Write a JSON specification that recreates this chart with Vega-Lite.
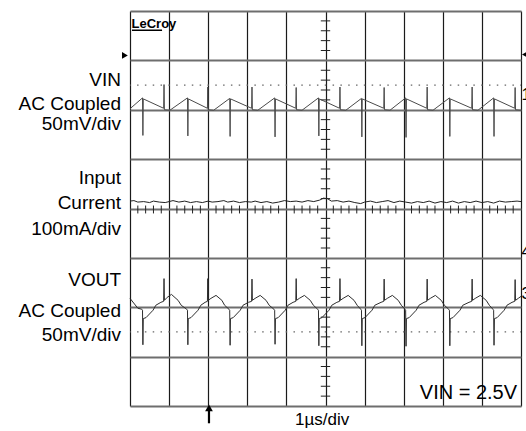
{
  "$schema": "https://vega.github.io/schema/vega-lite/v6.json",
  "width": 391,
  "height": 395,
  "autosize": {"type": "none"},
  "padding": {"left": 130, "top": 11, "right": 5, "bottom": 25},
  "background": "white",
  "config": {"view": {"stroke": null}, "font": "Liberation Sans"},
  "datasets": {
    "traces": [
      {"c":"vin","t":0,"v":2.02},
      {"c":"vin","t":0.32,"v":2.24},{"c":"vin","t":0.33,"v":1.48},{"c":"vin","t":0.34,"v":2.22},{"c":"vin","t":0.86,"v":2.03},{"c":"vin","t":0.87,"v":2.51},{"c":"vin","t":0.88,"v":2.0},{"c":"vin","t":1.02,"v":1.99},
      {"c":"vin","t":1.47,"v":2.24},{"c":"vin","t":1.48,"v":1.47},{"c":"vin","t":1.49,"v":2.22},{"c":"vin","t":1.98,"v":2.03},{"c":"vin","t":1.99,"v":2.46},{"c":"vin","t":2.0,"v":2.0},{"c":"vin","t":2.14,"v":1.99},
      {"c":"vin","t":2.55,"v":2.23},{"c":"vin","t":2.56,"v":1.46},{"c":"vin","t":2.57,"v":2.22},{"c":"vin","t":3.11,"v":2.03},{"c":"vin","t":3.12,"v":2.46},{"c":"vin","t":3.13,"v":2.0},{"c":"vin","t":3.27,"v":1.99},
      {"c":"vin","t":3.70,"v":2.24},{"c":"vin","t":3.71,"v":1.45},{"c":"vin","t":3.72,"v":2.22},{"c":"vin","t":4.24,"v":2.03},{"c":"vin","t":4.25,"v":2.45},{"c":"vin","t":4.26,"v":2.0},{"c":"vin","t":4.40,"v":1.99},
      {"c":"vin","t":4.82,"v":2.24},{"c":"vin","t":4.83,"v":1.47},{"c":"vin","t":4.84,"v":2.22},{"c":"vin","t":5.36,"v":2.03},{"c":"vin","t":5.37,"v":2.46},{"c":"vin","t":5.38,"v":2.0},{"c":"vin","t":5.52,"v":1.99},
      {"c":"vin","t":5.92,"v":2.23},{"c":"vin","t":5.93,"v":1.45},{"c":"vin","t":5.94,"v":2.22},{"c":"vin","t":6.49,"v":2.03},{"c":"vin","t":6.50,"v":2.45},{"c":"vin","t":6.51,"v":2.0},{"c":"vin","t":6.65,"v":1.99},
      {"c":"vin","t":7.05,"v":2.24},{"c":"vin","t":7.06,"v":1.44},{"c":"vin","t":7.07,"v":2.22},{"c":"vin","t":7.59,"v":2.03},{"c":"vin","t":7.60,"v":2.46},{"c":"vin","t":7.61,"v":2.0},{"c":"vin","t":7.75,"v":1.99},
      {"c":"vin","t":8.17,"v":2.24},{"c":"vin","t":8.18,"v":1.46},{"c":"vin","t":8.19,"v":2.22},{"c":"vin","t":8.74,"v":2.03},{"c":"vin","t":8.75,"v":2.46},{"c":"vin","t":8.76,"v":2.0},{"c":"vin","t":8.90,"v":1.99},
      {"c":"vin","t":9.30,"v":2.24},{"c":"vin","t":9.31,"v":1.46},{"c":"vin","t":9.32,"v":2.22},{"c":"vin","t":9.84,"v":2.03},{"c":"vin","t":9.85,"v":2.45},{"c":"vin","t":9.86,"v":2.0},{"c":"vin","t":10,"v":1.99},

      {"c":"iin","t":0,"v":0.15},{"c":"iin","t":0.1,"v":0.16},{"c":"iin","t":0.2,"v":0.13},{"c":"iin","t":0.35,"v":0.14},{"c":"iin","t":0.5,"v":0.12},{"c":"iin","t":0.6,"v":0.15},{"c":"iin","t":0.75,"v":0.13},{"c":"iin","t":0.9,"v":0.12},{"c":"iin","t":1.0,"v":0.14},{"c":"iin","t":1.1,"v":0.16},{"c":"iin","t":1.25,"v":0.13},{"c":"iin","t":1.4,"v":0.15},{"c":"iin","t":1.55,"v":0.12},{"c":"iin","t":1.7,"v":0.14},{"c":"iin","t":1.85,"v":0.12},{"c":"iin","t":2.0,"v":0.15},{"c":"iin","t":2.1,"v":0.13},{"c":"iin","t":2.25,"v":0.14},{"c":"iin","t":2.4,"v":0.16},{"c":"iin","t":2.5,"v":0.13},{"c":"iin","t":2.65,"v":0.15},{"c":"iin","t":2.8,"v":0.12},{"c":"iin","t":2.95,"v":0.14},{"c":"iin","t":3.1,"v":0.13},{"c":"iin","t":3.2,"v":0.15},{"c":"iin","t":3.35,"v":0.12},{"c":"iin","t":3.5,"v":0.14},{"c":"iin","t":3.65,"v":0.11},{"c":"iin","t":3.8,"v":0.13},{"c":"iin","t":3.95,"v":0.16},{"c":"iin","t":4.1,"v":0.14},{"c":"iin","t":4.25,"v":0.15},{"c":"iin","t":4.4,"v":0.13},{"c":"iin","t":4.55,"v":0.16},{"c":"iin","t":4.7,"v":0.14},{"c":"iin","t":4.85,"v":0.17},{"c":"iin","t":4.95,"v":0.21},{"c":"iin","t":5.05,"v":0.2},{"c":"iin","t":5.15,"v":0.15},{"c":"iin","t":5.3,"v":0.16},{"c":"iin","t":5.45,"v":0.13},{"c":"iin","t":5.6,"v":0.15},{"c":"iin","t":5.75,"v":0.12},{"c":"iin","t":5.9,"v":0.1},{"c":"iin","t":6.0,"v":0.13},{"c":"iin","t":6.15,"v":0.15},{"c":"iin","t":6.3,"v":0.12},{"c":"iin","t":6.45,"v":0.14},{"c":"iin","t":6.6,"v":0.16},{"c":"iin","t":6.75,"v":0.12},{"c":"iin","t":6.9,"v":0.15},{"c":"iin","t":7.05,"v":0.13},{"c":"iin","t":7.2,"v":0.11},{"c":"iin","t":7.35,"v":0.14},{"c":"iin","t":7.5,"v":0.12},{"c":"iin","t":7.65,"v":0.15},{"c":"iin","t":7.8,"v":0.11},{"c":"iin","t":7.95,"v":0.14},{"c":"iin","t":8.1,"v":0.12},{"c":"iin","t":8.25,"v":0.15},{"c":"iin","t":8.4,"v":0.11},{"c":"iin","t":8.55,"v":0.14},{"c":"iin","t":8.7,"v":0.12},{"c":"iin","t":8.85,"v":0.15},{"c":"iin","t":9.0,"v":0.12},{"c":"iin","t":9.15,"v":0.14},{"c":"iin","t":9.3,"v":0.11},{"c":"iin","t":9.45,"v":0.15},{"c":"iin","t":9.6,"v":0.13},{"c":"iin","t":9.75,"v":0.14},{"c":"iin","t":9.9,"v":0.15},{"c":"iin","t":10,"v":0.14},

      {"c":"vout","t":0,"v":-1.82},{"c":"vout","t":0.2,"v":-2.02},{"c":"vout","t":0.30,"v":-2.04},{"c":"vout","t":0.32,"v":-2.06},
      {"c":"vout","t":0.33,"v":-2.76},{"c":"vout","t":0.34,"v":-2.23},{"c":"vout","t":0.41,"v":-2.21},{"c":"vout","t":0.59,"v":-2.06},{"c":"vout","t":0.66,"v":-1.96},{"c":"vout","t":0.79,"v":-1.90},{"c":"vout","t":0.86,"v":-1.88},{"c":"vout","t":0.87,"v":-1.42},{"c":"vout","t":0.88,"v":-1.86},{"c":"vout","t":0.95,"v":-1.80},{"c":"vout","t":1.06,"v":-1.74},{"c":"vout","t":1.23,"v":-1.86},{"c":"vout","t":1.31,"v":-1.96},{"c":"vout","t":1.45,"v":-2.04},{"c":"vout","t":1.47,"v":-2.06},
      {"c":"vout","t":1.48,"v":-2.76},{"c":"vout","t":1.49,"v":-2.23},{"c":"vout","t":1.56,"v":-2.21},{"c":"vout","t":1.74,"v":-2.06},{"c":"vout","t":1.81,"v":-1.96},{"c":"vout","t":1.92,"v":-1.90},{"c":"vout","t":1.98,"v":-1.88},{"c":"vout","t":1.99,"v":-1.42},{"c":"vout","t":2.00,"v":-1.86},{"c":"vout","t":2.07,"v":-1.82},{"c":"vout","t":2.20,"v":-1.76},{"c":"vout","t":2.35,"v":-1.86},{"c":"vout","t":2.42,"v":-1.96},{"c":"vout","t":2.53,"v":-2.04},{"c":"vout","t":2.55,"v":-2.06},
      {"c":"vout","t":2.56,"v":-2.77},{"c":"vout","t":2.57,"v":-2.23},{"c":"vout","t":2.64,"v":-2.21},{"c":"vout","t":2.82,"v":-2.06},{"c":"vout","t":2.89,"v":-1.96},{"c":"vout","t":3.03,"v":-1.90},{"c":"vout","t":3.11,"v":-1.88},{"c":"vout","t":3.12,"v":-1.43},{"c":"vout","t":3.13,"v":-1.86},{"c":"vout","t":3.20,"v":-1.82},{"c":"vout","t":3.33,"v":-1.76},{"c":"vout","t":3.48,"v":-1.86},{"c":"vout","t":3.56,"v":-1.96},{"c":"vout","t":3.68,"v":-2.04},{"c":"vout","t":3.70,"v":-2.06},
      {"c":"vout","t":3.71,"v":-2.75},{"c":"vout","t":3.72,"v":-2.23},{"c":"vout","t":3.79,"v":-2.21},{"c":"vout","t":3.97,"v":-2.06},{"c":"vout","t":4.04,"v":-1.96},{"c":"vout","t":4.17,"v":-1.90},{"c":"vout","t":4.24,"v":-1.88},{"c":"vout","t":4.25,"v":-1.42},{"c":"vout","t":4.26,"v":-1.86},{"c":"vout","t":4.33,"v":-1.82},{"c":"vout","t":4.46,"v":-1.76},{"c":"vout","t":4.61,"v":-1.86},{"c":"vout","t":4.69,"v":-1.96},{"c":"vout","t":4.80,"v":-2.04},{"c":"vout","t":4.82,"v":-2.06},
      {"c":"vout","t":4.83,"v":-2.78},{"c":"vout","t":4.84,"v":-2.23},{"c":"vout","t":4.91,"v":-2.21},{"c":"vout","t":5.09,"v":-2.06},{"c":"vout","t":5.16,"v":-1.96},{"c":"vout","t":5.29,"v":-1.90},{"c":"vout","t":5.36,"v":-1.88},{"c":"vout","t":5.37,"v":-1.42},{"c":"vout","t":5.38,"v":-1.86},{"c":"vout","t":5.45,"v":-1.82},{"c":"vout","t":5.58,"v":-1.76},{"c":"vout","t":5.73,"v":-1.86},{"c":"vout","t":5.81,"v":-1.96},{"c":"vout","t":5.90,"v":-2.04},{"c":"vout","t":5.92,"v":-2.06},
      {"c":"vout","t":5.93,"v":-2.78},{"c":"vout","t":5.94,"v":-2.23},{"c":"vout","t":6.01,"v":-2.21},{"c":"vout","t":6.19,"v":-2.06},{"c":"vout","t":6.26,"v":-1.96},{"c":"vout","t":6.42,"v":-1.90},{"c":"vout","t":6.49,"v":-1.88},{"c":"vout","t":6.50,"v":-1.43},{"c":"vout","t":6.51,"v":-1.86},{"c":"vout","t":6.58,"v":-1.82},{"c":"vout","t":6.71,"v":-1.76},{"c":"vout","t":6.86,"v":-1.86},{"c":"vout","t":6.94,"v":-1.96},{"c":"vout","t":7.03,"v":-2.04},{"c":"vout","t":7.05,"v":-2.06},
      {"c":"vout","t":7.06,"v":-2.79},{"c":"vout","t":7.07,"v":-2.23},{"c":"vout","t":7.14,"v":-2.21},{"c":"vout","t":7.32,"v":-2.06},{"c":"vout","t":7.39,"v":-1.96},{"c":"vout","t":7.52,"v":-1.90},{"c":"vout","t":7.59,"v":-1.88},{"c":"vout","t":7.60,"v":-1.43},{"c":"vout","t":7.61,"v":-1.86},{"c":"vout","t":7.68,"v":-1.82},{"c":"vout","t":7.81,"v":-1.76},{"c":"vout","t":7.96,"v":-1.86},{"c":"vout","t":8.04,"v":-1.96},{"c":"vout","t":8.15,"v":-2.04},{"c":"vout","t":8.17,"v":-2.06},
      {"c":"vout","t":8.18,"v":-2.78},{"c":"vout","t":8.19,"v":-2.23},{"c":"vout","t":8.26,"v":-2.21},{"c":"vout","t":8.44,"v":-2.06},{"c":"vout","t":8.51,"v":-1.96},{"c":"vout","t":8.67,"v":-1.90},{"c":"vout","t":8.74,"v":-1.88},{"c":"vout","t":8.75,"v":-1.43},{"c":"vout","t":8.76,"v":-1.86},{"c":"vout","t":8.83,"v":-1.82},{"c":"vout","t":8.96,"v":-1.76},{"c":"vout","t":9.11,"v":-1.86},{"c":"vout","t":9.19,"v":-1.96},{"c":"vout","t":9.28,"v":-2.04},{"c":"vout","t":9.30,"v":-2.06},
      {"c":"vout","t":9.31,"v":-2.77},{"c":"vout","t":9.32,"v":-2.23},{"c":"vout","t":9.39,"v":-2.21},{"c":"vout","t":9.57,"v":-2.06},{"c":"vout","t":9.64,"v":-1.96},{"c":"vout","t":9.77,"v":-1.90},{"c":"vout","t":9.84,"v":-1.88},{"c":"vout","t":9.85,"v":-1.44},{"c":"vout","t":9.86,"v":-1.86},{"c":"vout","t":9.93,"v":-1.82},{"c":"vout","t":10,"v":-1.78}
    ],
    "hticks": [
      {"t":0.2,"v":0.06,"v2":-0.1},{"t":0.4,"v":0.06,"v2":-0.1},{"t":0.6,"v":0.06,"v2":-0.1},{"t":0.8,"v":0.06,"v2":-0.1},
      {"t":1.2,"v":0.06,"v2":-0.1},{"t":1.4,"v":0.06,"v2":-0.1},{"t":1.6,"v":0.06,"v2":-0.1},{"t":1.8,"v":0.06,"v2":-0.1},
      {"t":2.2,"v":0.06,"v2":-0.1},{"t":2.4,"v":0.06,"v2":-0.1},{"t":2.6,"v":0.06,"v2":-0.1},{"t":2.8,"v":0.06,"v2":-0.1},
      {"t":3.2,"v":0.06,"v2":-0.1},{"t":3.4,"v":0.06,"v2":-0.1},{"t":3.6,"v":0.06,"v2":-0.1},{"t":3.8,"v":0.06,"v2":-0.1},
      {"t":4.2,"v":0.06,"v2":-0.1},{"t":4.4,"v":0.06,"v2":-0.1},{"t":4.6,"v":0.06,"v2":-0.1},{"t":4.8,"v":0.06,"v2":-0.1},
      {"t":5.2,"v":0.06,"v2":-0.1},{"t":5.4,"v":0.06,"v2":-0.1},{"t":5.6,"v":0.06,"v2":-0.1},{"t":5.8,"v":0.06,"v2":-0.1},
      {"t":6.2,"v":0.06,"v2":-0.1},{"t":6.4,"v":0.06,"v2":-0.1},{"t":6.6,"v":0.06,"v2":-0.1},{"t":6.8,"v":0.06,"v2":-0.1},
      {"t":7.2,"v":0.06,"v2":-0.1},{"t":7.4,"v":0.06,"v2":-0.1},{"t":7.6,"v":0.06,"v2":-0.1},{"t":7.8,"v":0.06,"v2":-0.1},
      {"t":8.2,"v":0.06,"v2":-0.1},{"t":8.4,"v":0.06,"v2":-0.1},{"t":8.6,"v":0.06,"v2":-0.1},{"t":8.8,"v":0.06,"v2":-0.1},
      {"t":9.2,"v":0.06,"v2":-0.1},{"t":9.4,"v":0.06,"v2":-0.1},{"t":9.6,"v":0.06,"v2":-0.1},{"t":9.8,"v":0.06,"v2":-0.1}
    ],
    "vticks": [
      {"v":-3.8,"t":4.88,"t2":5.12},{"v":-3.6,"t":4.88,"t2":5.12},{"v":-3.4,"t":4.88,"t2":5.12},{"v":-3.2,"t":4.88,"t2":5.12},
      {"v":-2.8,"t":4.88,"t2":5.12},{"v":-2.6,"t":4.88,"t2":5.12},{"v":-2.4,"t":4.88,"t2":5.12},{"v":-2.2,"t":4.88,"t2":5.12},
      {"v":-1.8,"t":4.88,"t2":5.12},{"v":-1.6,"t":4.88,"t2":5.12},{"v":-1.4,"t":4.88,"t2":5.12},{"v":-1.2,"t":4.88,"t2":5.12},
      {"v":-0.8,"t":4.88,"t2":5.12},{"v":-0.6,"t":4.88,"t2":5.12},{"v":-0.4,"t":4.88,"t2":5.12},{"v":-0.2,"t":4.88,"t2":5.12},
      {"v":0.2,"t":4.88,"t2":5.12},{"v":0.4,"t":4.88,"t2":5.12},{"v":0.6,"t":4.88,"t2":5.12},{"v":0.8,"t":4.88,"t2":5.12},
      {"v":1.2,"t":4.88,"t2":5.12},{"v":1.4,"t":4.88,"t2":5.12},{"v":1.6,"t":4.88,"t2":5.12},{"v":1.8,"t":4.88,"t2":5.12},
      {"v":2.2,"t":4.88,"t2":5.12},{"v":2.4,"t":4.88,"t2":5.12},{"v":2.6,"t":4.88,"t2":5.12},{"v":2.8,"t":4.88,"t2":5.12},
      {"v":3.2,"t":4.88,"t2":5.12},{"v":3.4,"t":4.88,"t2":5.12},{"v":3.6,"t":4.88,"t2":5.12},{"v":3.8,"t":4.88,"t2":5.12}
    ],
    "leftLabels": [
      {"label":"VIN","t":-0.23,"v":2.49},
      {"label":"AC Coupled","t":-0.23,"v":2.0},
      {"label":"50mV/div","t":-0.23,"v":1.58},
      {"label":"Input","t":-0.23,"v":0.49},
      {"label":"Current","t":-0.23,"v":-0.02},
      {"label":"100mA/div","t":-0.23,"v":-0.53},
      {"label":"VOUT","t":-0.23,"v":-1.56},
      {"label":"AC Coupled","t":-0.23,"v":-2.19},
      {"label":"50mV/div","t":-0.23,"v":-2.69}
    ],
    "channels": [
      {"label":"1","t":10.01,"v":2.29},
      {"label":"4","t":10.01,"v":-0.89},
      {"label":"3","t":10.01,"v":-1.74}
    ]
  },
  "encoding": {
    "x": {"field": "t", "type": "quantitative", "scale": {"domain": [0, 10], "nice": false, "zero": false},
          "axis": {"values": [0,1,2,3,4,5,6,7,8,9,10], "grid": true, "gridColor": "#1a1a1a", "gridWidth": 1.2, "labels": false, "ticks": false, "domain": false, "title": null}},
    "y": {"field": "v", "type": "quantitative", "scale": {"domain": [-4, 4], "nice": false, "zero": false},
          "axis": {"values": [-4,-3,-2,-1,0,1,2,3,4], "grid": true, "gridColor": "#6e6e6e", "gridWidth": 1.8, "labels": false, "ticks": false, "domain": false, "title": null}}
  },
  "layer": [
    {
      "data": {"values": [{"t": 0, "t2": 10, "v": 2.5}, {"t": 0, "t2": 10, "v": -2.5}]},
      "mark": {"type": "rule", "color": "#666", "strokeWidth": 1.3, "strokeDash": [1.5, 6.32], "strokeDashOffset": 0.75},
      "encoding": {"x2": {"field": "t2"}}
    },
    {
      "data": {"name": "hticks"},
      "mark": {"type": "rule", "color": "#222", "strokeWidth": 1},
      "encoding": {"y2": {"field": "v2"}}
    },
    {
      "data": {"name": "vticks"},
      "mark": {"type": "rule", "color": "#222", "strokeWidth": 1},
      "encoding": {"x2": {"field": "t2"}}
    },
    {
      "data": {"name": "traces"},
      "mark": {"type": "line", "strokeWidth": 1},
      "encoding": {
        "color": {"field": "c", "type": "nominal", "scale": {"domain": ["vin", "iin", "vout"], "range": ["#4a4a4a", "#222222", "#2e2e2e"]}, "legend": null}
      }
    },
    {
      "data": {"values": [{"t": -0.13, "v": 3.1}]},
      "mark": {"type": "point", "shape": "triangle-right", "filled": true, "color": "#000", "size": 45, "opacity": 1}
    },
    {
      "data": {"values": [{"t": 10.1, "v": 3.12}]},
      "mark": {"type": "point", "shape": "triangle-left", "filled": true, "color": "#000", "size": 45, "opacity": 1}
    },
    {
      "data": {"values": [{"t": 2.02, "v": -4.04}]},
      "mark": {"type": "point", "shape": "triangle-up", "filled": true, "color": "#000", "size": 60, "opacity": 1}
    },
    {
      "data": {"values": [{"t": 2.02, "v": -4.06, "v2": -4.35}]},
      "mark": {"type": "rule", "color": "#000", "strokeWidth": 2.2},
      "encoding": {"y2": {"field": "v2"}}
    },
    {
      "data": {"values": [{"t": 0.05, "t2": 0.82, "v": 3.61}]},
      "mark": {"type": "rule", "color": "#000", "strokeWidth": 1.5},
      "encoding": {"x2": {"field": "t2"}}
    },
    {
      "data": {"values": [{"label": "LeCroy", "t": 0.04, "v": 3.65}]},
      "mark": {"type": "text", "align": "left", "baseline": "alphabetic", "fontSize": 13, "fontWeight": "bold", "color": "#000"},
      "encoding": {"text": {"field": "label"}}
    },
    {
      "data": {"name": "leftLabels"},
      "mark": {"type": "text", "align": "right", "baseline": "alphabetic", "fontSize": 19, "color": "#000"},
      "encoding": {"text": {"field": "label"}}
    },
    {
      "data": {"name": "channels"},
      "mark": {"type": "text", "align": "left", "baseline": "middle", "fontSize": 17, "color": "#000"},
      "encoding": {"text": {"field": "label"}}
    },
    {
      "data": {"values": [{"label": "1µs/div", "t": 4.22, "v": -4.39}]},
      "mark": {"type": "text", "align": "left", "baseline": "alphabetic", "fontSize": 17, "color": "#000"},
      "encoding": {"text": {"field": "label"}}
    },
    {
      "data": {"values": [{"label": "VIN = 2.5V", "t": 9.9, "v": -3.85}]},
      "mark": {"type": "text", "align": "right", "baseline": "alphabetic", "fontSize": 20, "color": "#000"},
      "encoding": {"text": {"field": "label"}}
    }
  ]
}
